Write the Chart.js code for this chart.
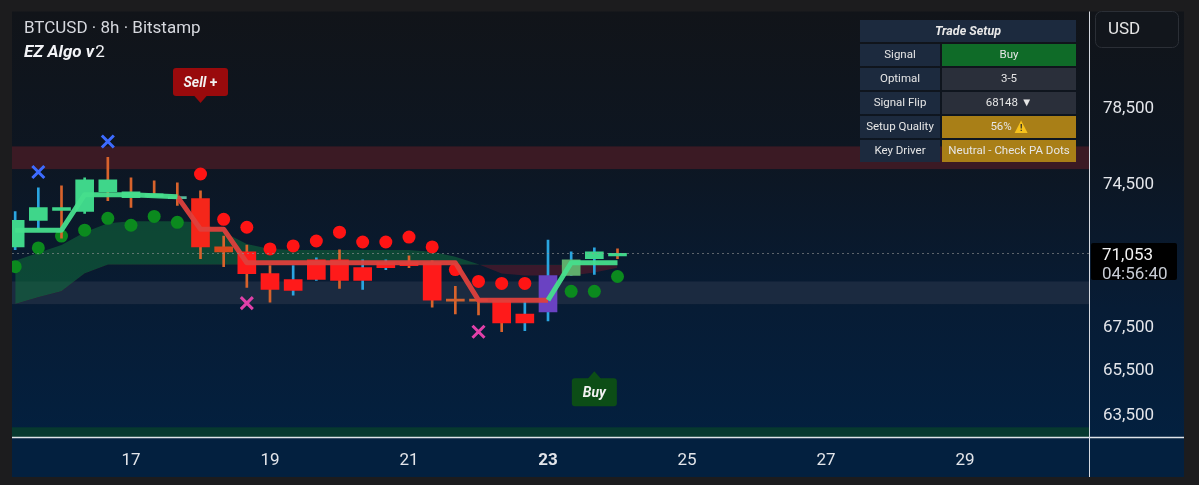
<!DOCTYPE html>
<html>
<head>
<meta charset="utf-8">
<script src="https://cdn.jsdelivr.net/npm/chart.js@4.4.1/dist/chart.umd.min.js"></script>
<style>
  html, body { margin: 0; padding: 0; background: #1c1c1e; }
  canvas { display: block; }
</style>
</head>
<body>
<canvas id="chart" width="1199" height="485"></canvas>
<script>
// BTCUSD 8h candles, 15th 08:00 -> 23rd 16:00
const firstBarDay = 15 + 8 / 24;
const barHours = 8;
const opens  = [71370, 72695, 73192, 73142, 74146, 74146, 73894, 73894, 73793, 71370, 71128, 70069, 69784, 70741, 70741, 70357, 70597, 70597, 70597, 68792, 68792, 68792, 68140, 68233, 69974, 70789, 70934];
const highs  = [73142, 74348, 74449, 74856, 75935, 74856, 74703, 74602, 74196, 71907, 71468, 70452, 70452, 70837, 71225, 70741, 70741, 70934, 70693, 69452, 68792, 68792, 68746, 71712, 71128, 71322, 71273];
const lows   = [71240, 72251, 71809, 73043, 73692, 73342, 73894, 73442, 70789, 70405, 69404, 68699, 69027, 69736, 69357, 69310, 70261, 70357, 68465, 68140, 68093, 67309, 67355, 67815, 69974, 70022, 70789];
const closes = [72695, 73342, 73342, 74754, 74754, 73843, 74045, 73793, 71370, 71128, 70069, 69310, 69263, 69784, 69736, 69736, 70357, 70452, 68792, 68746, 68746, 67723, 67723, 69974, 70741, 71128, 71053];

// trend cloud (two averages)
const cloudFast = [70693, 71079, 71468, 72104, 72547, 72646, 72646, 72646, 72596, 72104, 71516, 71273, 71225, 71225, 71225, 71225, 71225, 71225, 71128, 70886, 70520, 70069, 69974, 69974, 69974, 70117, 70357];
const cloudSlow = [68605, 68933, 69215, 70069, 70500, 70500, 70500, 70500, 70500, 70500, 70500, 70500, 70500, 70500, 70500, 70500, 70500, 70500, 70500, 70500, 70500, 70500, 70500, 70500, 70500, 70500, 70470];

// trailing trend line
const trendUp   = [72202, 72202, 72202, 73994, 73994, 73994, 73944, 73894, null, null, null, null, null, null, null, null, null, null, null, null, null, null, null, 68792, 70597, 70597, 70597];
const trendDown = [null, null, null, null, null, null, null, 73894, 72251, 72251, 70597, 70597, 70597, 70597, 70597, 70597, 70597, 70597, 70597, 70597, 68792, 68792, 68792, 68792, null, null, null];

// PA dots
const bullDots = [70405, 71322, 71907, 72202, 72794, 72448, 72894, 72596, null, null, null, null, null, null, null, null, null, null, null, null, null, null, null, null, 69215, 69215, 69926];
const bearDots = [null, null, null, null, null, null, null, null, 75060, 72745, 72349, 71273, 71419, 71663, 72104, 71614, 71614, 71858, 71370, 70261, 69689, 69594, 69594, null, null, null, null];

// exhaustion crosses
const topCrossBars = [1, 4];
const topCrossPrices = [75163, 76767];
const bottomCrossBars = [10, 20];
const bottomCrossPrices = [68652, 67309];

// signals
const signalBars = [8, 25];
const signalTexts = ['Sell', 'Buy'];
const signalSuffix = ['+', ''];
const signalPrices = [78834, 65500];

// zones
const resistanceZone = [75316, 76506];
const supportZone = [68605, 69689];
const floorZone = [62585, 63006];

const lastPrice = 71053;
const countdown = '04:56:40';
const yTicks = [63500, 65500, 67500, 74500, 78500];
const dayTicks = [17, 19, 21, 23, 25, 27, 29];
const boldDay = 23;

const tableTitle = 'Trade Setup';
const tableRows = ['Signal', 'Optimal', 'Signal Flip', 'Setup Quality', 'Key Driver'];
const tableValues = ['Buy', '3-5', '68148 \u25BC', '56%', 'Neutral - Check PA Dots'];

// styles
const GREEN = '#3fd68a', RED = '#ff1a1a', BLUE_W = '#2aa5e0', ORANGE_W = '#d8632c';
const bodyColors = [GREEN, GREEN, GREEN, GREEN, GREEN, GREEN, GREEN, '#58b99a', '#f5261a', '#d9481c', RED, RED, RED, RED, RED, RED, RED, RED, RED, '#d0602e', '#d0602e', RED, RED, '#6a42c2', '#5fae6c', GREEN, GREEN];
const wickColors = [BLUE_W, BLUE_W, ORANGE_W, GREEN, ORANGE_W, ORANGE_W, ORANGE_W, ORANGE_W, ORANGE_W, ORANGE_W, ORANGE_W, ORANGE_W, BLUE_W, BLUE_W, ORANGE_W, BLUE_W, BLUE_W, ORANGE_W, ORANGE_W, ORANGE_W, ORANGE_W, ORANGE_W, BLUE_W, BLUE_W, BLUE_W, BLUE_W, ORANGE_W];
const cellFills = ['#0f6b28', '#2a2f3a', '#2a2f3a', '#a97f17', '#a97f17'];
const FONT = 'Roboto';

const barX = opens.map((_, i) => firstBarDay + i * barHours / 24);
const xy = arr => arr.map((v, i) => ({ x: barX[i], y: v }));

const overlay = {
  id: 'overlay',
  beforeDraw(chart) {
    const { ctx, chartArea: a } = chart;
    const right = chart.scales.y.right;
    ctx.save();
    ctx.fillStyle = '#1c1c1e';
    ctx.fillRect(0, 0, chart.width, chart.height);
    const g = ctx.createLinearGradient(0, a.top, 0, a.bottom);
    g.addColorStop(0, '#111419');
    g.addColorStop(0.35, '#0d1622');
    g.addColorStop(0.7, '#071c35');
    g.addColorStop(1, '#03203f');
    ctx.fillStyle = g;
    ctx.fillRect(a.left, a.top, right - a.left, a.bottom - a.top);
    ctx.fillStyle = '#03203f';
    ctx.fillRect(a.left, a.bottom, right - a.left, chart.scales.x.bottom - a.bottom);
    ctx.restore();
  },
  beforeDatasetsDraw(chart) {
    const { ctx, chartArea: a, scales: { y } } = chart;
    const band = (z, c) => {
      const y1 = y.getPixelForValue(z[1]), y0 = y.getPixelForValue(z[0]);
      ctx.fillStyle = c;
      ctx.fillRect(a.left, y1, a.right - a.left, y0 - y1);
    };
    ctx.save();
    band(resistanceZone, '#3b1a24');
    band(supportZone, '#1b2a40');
    band(floorZone, '#07392f');
    ctx.restore();
  },
  afterDatasetsDraw(chart) {
    const { ctx, chartArea: a, scales: { x, y } } = chart;
    ctx.save();
    // last price dotted line
    const py = Math.round(y.getPixelForValue(lastPrice)) + 0.5;
    ctx.strokeStyle = 'rgba(150,150,150,0.6)';
    ctx.lineWidth = 1;
    ctx.setLineDash([2, 3]);
    ctx.beginPath(); ctx.moveTo(a.left, py); ctx.lineTo(a.right, py); ctx.stroke();
    ctx.setLineDash([]);
    // signal bubbles
    signalBars.forEach((b, k) => {
      const cx = x.getPixelForValue(barX[b]);
      const tip = y.getPixelForValue(signalPrices[k]);
      const up = signalTexts[k] === 'Buy';
      const w = up ? 45 : 55, h = 28;
      const top = up ? tip + 7 : tip - 7 - h;
      ctx.fillStyle = up ? '#0c4d16' : '#990a0c';
      ctx.beginPath(); ctx.roundRect(cx - w / 2, top, w, h, 3); ctx.fill();
      const base = up ? top + 1 : top + h - 1;
      ctx.beginPath(); ctx.moveTo(cx - 7, base); ctx.lineTo(cx, tip); ctx.lineTo(cx + 7, base); ctx.closePath(); ctx.fill();
      const main = signalTexts[k], extra = signalSuffix[k] ? ' ' + signalSuffix[k] : '';
      ctx.font = `italic bold 14px ${FONT}`;
      const w1 = ctx.measureText(main).width;
      ctx.font = `bold 14px ${FONT}`;
      const w2 = extra ? ctx.measureText(extra).width : 0;
      const tx = cx - (w1 + w2) / 2;
      ctx.fillStyle = '#f2f2f2';
      ctx.textBaseline = 'middle';
      ctx.textAlign = 'left';
      ctx.font = `italic bold 14px ${FONT}`;
      ctx.fillText(main, tx, top + h / 2 + 1);
      if (extra) { ctx.font = `bold 14px ${FONT}`; ctx.fillText(extra, tx + w1, top + h / 2 + 1); }
    });
    ctx.restore();
  },
  afterDraw(chart) {
    const { ctx, chartArea: a, scales: { x, y } } = chart;
    const right = y.right, bottom = x.bottom;
    ctx.save();
    // frame lines
    ctx.strokeStyle = '#dfe3e8';
    ctx.lineWidth = 1.5;
    ctx.beginPath(); ctx.moveTo(a.left, a.bottom + 0.5); ctx.lineTo(right, a.bottom + 0.5); ctx.stroke();
    ctx.lineWidth = 1;
    ctx.strokeStyle = '#d5d9e0';
    ctx.beginPath(); ctx.moveTo(a.right + 0.5, a.top); ctx.lineTo(a.right + 0.5, bottom); ctx.stroke();

    // titles
    ctx.textBaseline = 'middle';
    ctx.textAlign = 'left';
    ctx.fillStyle = '#d6d8de';
    ctx.font = `17px ${FONT}`;
    ctx.fillText('BTCUSD \u00B7 8h \u00B7 Bitstamp', 24, 29);
    ctx.fillStyle = '#f2f3f6';
    ctx.font = `italic bold 17px ${FONT}`;
    ctx.fillText('EZ Algo v', 24, 53);
    const vw = ctx.measureText('EZ Algo v').width;
    ctx.font = `17px ${FONT}`;
    ctx.fillText('2', 24 + vw + 1, 53);

    // trade setup table
    const tl = 860, tw = 216, lw = 80, rl = 942, rw = tl + tw - rl;
    ctx.fillStyle = '#1c2a3e';
    ctx.fillRect(tl, 20, tw, 22);
    ctx.textAlign = 'center';
    ctx.fillStyle = '#e8e8e8';
    ctx.font = `italic bold 12.5px ${FONT}`;
    ctx.fillText(tableTitle, tl + tw / 2, 31.5);
    tableRows.forEach((r, k) => {
      const ty = 44 + k * 24;
      ctx.fillStyle = '#1c2a3e';
      ctx.fillRect(tl, ty, lw, 22);
      ctx.fillStyle = cellFills[k];
      ctx.fillRect(rl, ty, rw, 22);
      ctx.fillStyle = '#e6e6e6';
      ctx.font = `11.5px ${FONT}`;
      ctx.textAlign = 'center';
      ctx.fillText(r, tl + lw / 2, ty + 11.5);
      const cx = rl + rw / 2;
      if (k === 3) {
        const tw3 = ctx.measureText(tableValues[k] + ' ').width;
        const total = tw3 + 13;
        const sx = cx - total / 2;
        ctx.textAlign = 'left';
        ctx.fillText(tableValues[k] + ' ', sx, ty + 11.5);
        const ix = sx + tw3;
        ctx.fillStyle = '#f6c21c';
        ctx.beginPath(); ctx.moveTo(ix + 6.5, ty + 4.5); ctx.lineTo(ix + 13, ty + 17); ctx.lineTo(ix, ty + 17); ctx.closePath(); ctx.fill();
        ctx.fillStyle = '#2a2a2a';
        ctx.font = `bold 9px ${FONT}`;
        ctx.textAlign = 'center';
        ctx.fillText('!', ix + 6.5, ty + 12.5);
      } else {
        ctx.fillText(tableValues[k], cx, ty + 11.5);
      }
    });

    // currency box
    ctx.fillStyle = '#12161c';
    ctx.strokeStyle = '#2b2f36';
    ctx.lineWidth = 1;
    ctx.beginPath(); ctx.roundRect(1095.5, 11.5, 83, 36, 6); ctx.fill(); ctx.stroke();
    ctx.fillStyle = '#e6e6e6';
    ctx.font = `17px ${FONT}`;
    ctx.textAlign = 'left';
    ctx.fillText('USD', 1108, 30);

    // last price tag
    const py = y.getPixelForValue(lastPrice);
    ctx.fillStyle = '#000000';
    ctx.beginPath(); ctx.roundRect(a.right + 2, py - 10.5, 86, 37, 2); ctx.fill();
    ctx.fillStyle = '#f2f2f2';
    ctx.fillText(lastPrice.toLocaleString('en-US'), a.right + 13, py + 2.5);
    ctx.fillStyle = '#c8ccd4';
    ctx.fillText(countdown, a.right + 13, py + 21);
    ctx.restore();
  }
};

const dotSet = (data, color) => ({
  data: xy(data), showLine: false, pointRadius: 6.5, pointBackgroundColor: color,
  pointBorderWidth: 0, pointBorderColor: color, order: 5, clip: 0
});
const crossSet = (bars, prices, color) => ({
  data: bars.map((b, k) => ({ x: barX[b], y: prices[k] })), showLine: false,
  pointStyle: 'crossRot', pointRadius: 8.5, pointBorderWidth: 3, pointBorderColor: color, order: 0, clip: 0
});

new Chart(document.getElementById('chart'), {
  type: 'line',
  data: {
    datasets: [
      { data: xy(cloudFast), borderColor: 'transparent', borderWidth: 0, pointRadius: 0, order: 10, clip: 0,
        fill: { target: '+1', above: 'rgba(16,110,60,0.55)', below: 'rgba(120,25,40,0.45)' } },
      { data: xy(cloudSlow), borderColor: 'transparent', borderWidth: 0, pointRadius: 0, order: 11, fill: false, clip: 0 },
      dotSet(bullDots, '#0b8a1e'),
      dotSet(bearDots, '#ff1414'),
      { type: 'bar', data: opens.map((_, i) => ({ x: barX[i], y: [lows[i], highs[i]] })),
        backgroundColor: wickColors, barThickness: 2, grouped: false, order: 4, clip: 0 },
      { type: 'bar', data: opens.map((o, i) => ({ x: barX[i], y: [o, closes[i]] })),
        backgroundColor: bodyColors, barThickness: 18, minBarLength: 2, grouped: false, order: 3, clip: 0 },
      { data: xy(trendUp), borderColor: 'rgba(70,222,140,0.95)', borderWidth: 5, pointRadius: 0, fill: false,
        borderJoinStyle: 'round', order: 1, clip: 0 },
      { data: xy(trendDown), borderColor: 'rgba(222,64,60,0.95)', borderWidth: 5, pointRadius: 0, fill: false,
        borderJoinStyle: 'round', order: 1, clip: 0 },
      crossSet(topCrossBars, topCrossPrices, '#3d6bff'),
      crossSet(bottomCrossBars, bottomCrossPrices, '#e040a8')
    ]
  },
  options: {
    responsive: false,
    animation: false,
    events: [],
    layout: { padding: { left: 12, top: 5, right: 15, bottom: 8 } },
    plugins: { legend: { display: false }, tooltip: { enabled: false } },
    scales: {
      x: {
        type: 'linear', min: 15.2878, max: 30.784, offset: false,
        grid: { display: false, drawTicks: false }, border: { display: false },
        afterBuildTicks: s => { s.ticks = dayTicks.map(v => ({ value: v })); },
        afterFit: s => { s.height = 40; s.paddingLeft = 0; s.paddingRight = 0; },
        ticks: {
          autoSkip: false, maxRotation: 0, padding: 14, color: '#e3e5ea',
          font: c => ({ family: FONT, size: 17, weight: c.tick && c.tick.value === boldDay ? 'bold' : 'normal' }),
          callback: v => String(v)
        }
      },
      y: {
        type: 'logarithmic', position: 'right', min: 62585, max: 83982,
        grid: { display: false, drawTicks: false }, border: { display: false },
        afterBuildTicks: s => { s.ticks = yTicks.map(v => ({ value: v })); },
        afterFit: s => { s.width = 95; s.paddingTop = 0; s.paddingBottom = 0; },
        ticks: {
          autoSkip: false, padding: 14, color: '#e3e5ea', font: { family: FONT, size: 17 },
          callback: v => Number(v).toLocaleString('en-US')
        }
      }
    }
  },
  plugins: [overlay]
});
</script>
</body>
</html>
